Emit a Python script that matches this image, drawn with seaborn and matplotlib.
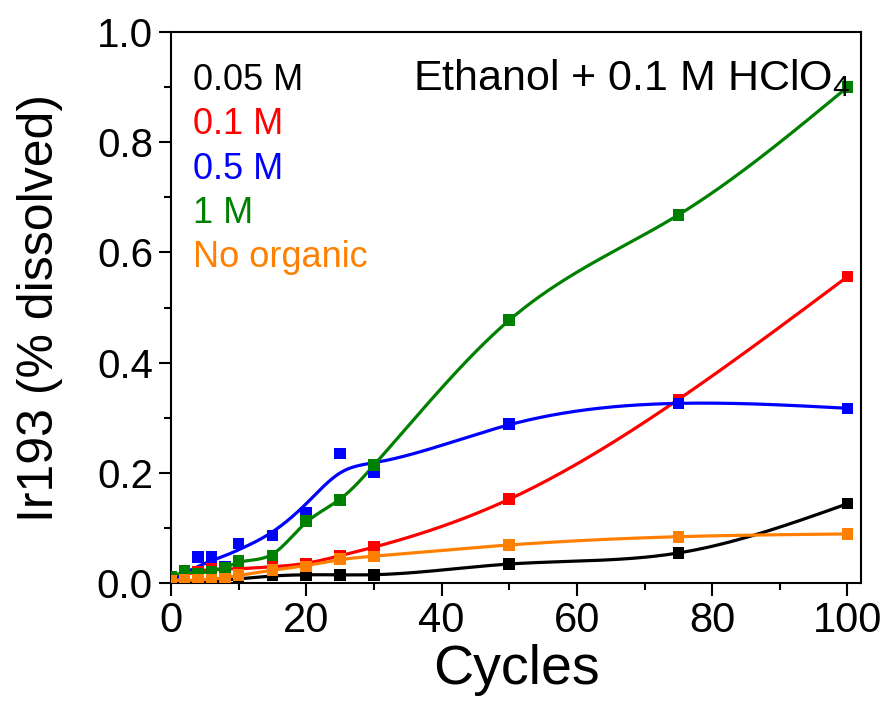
import numpy as np
import pandas as pd
import matplotlib
matplotlib.use("Agg")
import matplotlib.pyplot as plt
import seaborn as sns

# values
cycles = [0, 2, 4, 6, 8, 10, 15, 20, 25, 30, 50, 75, 100]
conc_005 = [0.002, 0.002, 0.003, 0.003, 0.004, 0.008, 0.014, 0.015, 0.015, 0.014, 0.035, 0.054, 0.144]
conc_01 = [0.010, 0.014, 0.020, 0.030, 0.022, 0.026, 0.030, 0.035, 0.050, 0.065, 0.152, 0.333, 0.556]
conc_05 = [0.004, 0.007, 0.047, 0.047, 0.030, 0.072, 0.086, 0.127, 0.235, 0.201, 0.288, 0.326, 0.317]
conc_1 = [0.011, 0.022, 0.017, 0.021, 0.027, 0.040, 0.050, 0.112, 0.151, 0.214, 0.477, 0.668, 0.900]
no_organic = [0.004, 0.005, 0.006, 0.006, 0.008, 0.015, 0.024, 0.030, 0.044, 0.048, 0.069, 0.084, 0.089]

labels = ["0.05 M", "0.1 M", "0.5 M", "1 M", "No organic"]
series = [conc_005, conc_01, conc_05, conc_1, no_organic]
colors = ["#000000", "#FF0000", "#0000FF", "#008000", "#FF8000"]
smoothing = {"0.05 M": 25.0, "0.1 M": 5.0, "0.5 M": 30.0, "1 M": 1.0, "No organic": 10.0}


def smooth_curve(x, y, lam):
    # discrete smoothing spline (penalised second differences) on a fine grid
    grid = np.linspace(0, 100, 1001)
    h = grid[1] - grid[0]
    n = len(grid)
    idx = np.round(np.asarray(x) / h).astype(int)
    w = np.zeros(n)
    z = np.zeros(n)
    np.add.at(w, idx, 1.0)
    np.add.at(z, idx, np.asarray(y, dtype=float))
    D = np.diff(np.eye(n), 2, axis=0) / h**2
    A = np.diag(w) + lam * h * (D.T @ D)
    return grid, np.linalg.solve(A, z)


points = pd.concat(
    [pd.DataFrame({"Cycles": cycles, "value": s, "series": lab}) for lab, s in zip(labels, series)]
)
curves = []
for lab, s in zip(labels, series):
    gx, gy = smooth_curve(cycles, s, smoothing[lab])
    curves.append(pd.DataFrame({"Cycles": gx, "value": gy, "series": lab}))
curves = pd.concat(curves)

sns.set_style("ticks")
plt.rcParams["font.family"] = ["Liberation Sans", "DejaVu Sans"]
plt.rcParams["mathtext.fontset"] = "custom"
plt.rcParams["mathtext.rm"] = "Liberation Sans"
for key in ["text.color", "axes.labelcolor", "xtick.color", "ytick.color", "axes.edgecolor"]:
    plt.rcParams[key] = "black"

fig = plt.figure(figsize=(8.84, 7.04), dpi=100)
ax = fig.add_axes([0.1934, 0.1719, 0.7806, 0.7826])

palette = dict(zip(labels, colors))
sns.lineplot(data=curves, x="Cycles", y="value", hue="series", palette=palette,
             estimator=None, sort=False, lw=2.3, legend=False, ax=ax)
sns.scatterplot(data=points, x="Cycles", y="value", hue="series", palette=palette,
                marker="s", s=70, linewidth=0, legend=False, ax=ax, zorder=3)

ax.set_xlim(0, 102)
ax.set_ylim(0, 1.0)
ax.set_xticks(np.arange(0, 101, 20))
ax.set_xticks(np.arange(10, 101, 20), minor=True)
ax.set_yticks(np.arange(0, 1.01, 0.2))
ax.set_yticks(np.arange(0.1, 1.0, 0.2), minor=True)
ax.set_yticklabels([f"{v:.1f}" for v in np.arange(0, 1.01, 0.2)])

ax.tick_params(which="both", direction="out", width=1.5, top=False, right=False)
ax.tick_params(which="major", length=9)
ax.tick_params(which="minor", length=5)
ax.tick_params(axis="y", labelsize=29, pad=4)
ax.tick_params(axis="x", labelsize=30, pad=4)
for sp in ax.spines.values():
    sp.set_linewidth(1.5)

ax.set_xlabel("Cycles", fontsize=40, labelpad=2)
ax.set_ylabel("Ir193 (% dissolved)", fontsize=36, labelpad=24)

for i, (lab, col) in enumerate(zip(labels, colors)):
    ax.text(0.032, 0.895 - i * 0.0805, lab, color=col, fontsize=26,
            transform=ax.transAxes, va="baseline", ha="left")

ax.text(0.985, 0.895, r"Ethanol + 0.1 M HClO$_{\mathregular{4}}$", fontsize=31,
        transform=ax.transAxes, va="baseline", ha="right")

fig.savefig("out.png", dpi=100)
